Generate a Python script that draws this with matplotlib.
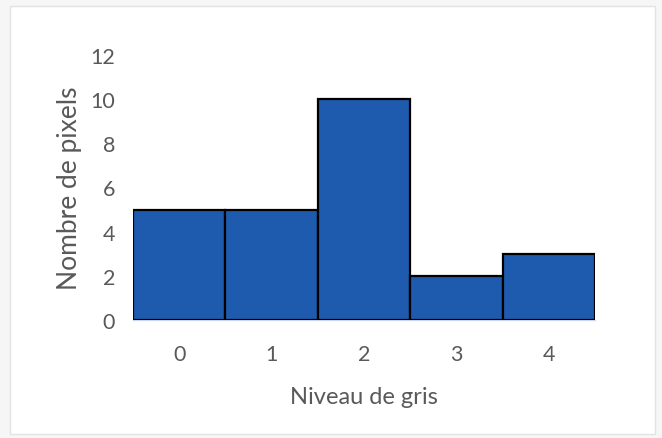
import matplotlib.pyplot as plt
from matplotlib.patches import Rectangle

# gray levels and pixel counts
niveaux = [0, 1, 2, 3, 4]
nb_pixels = [5, 5, 10, 2, 3]
y_ticks = [0, 2, 4, 6, 8, 10, 12]

plt.rcParams['font.family'] = ['Lato', 'DejaVu Sans']
txt_color = '#595959'

fig = plt.figure(figsize=(6.62, 4.39), dpi=100)
fig.patch.set_facecolor('#f6f6f6')
# white chart frame like the spreadsheet chart box
fig.patches.append(Rectangle((10/662, 4/439), 645/662, 428/439, transform=fig.transFigure,
                             facecolor='white', edgecolor='#e2e2e2', lw=1, zorder=-1))

ax = fig.add_axes([133/662, 1 - 321/439, 462/662, 265/439])
ax.set_facecolor('none')
ax.bar(niveaux, nb_pixels, width=1.0, color='#1e5bae', edgecolor='black', linewidth=1.6, zorder=3)

ax.set_xlim(-0.5, 4.5)
ax.set_ylim(0, 12)
ax.set_yticks(y_ticks)
ax.set_xticks(niveaux)
for s in ['top', 'right', 'left']:
    ax.spines[s].set_visible(False)
ax.spines['bottom'].set_color('#d0d8e8')
ax.spines['bottom'].set_linewidth(1)
ax.tick_params(length=0, labelsize=15.5, colors=txt_color)
ax.tick_params(axis='y', pad=13)
ax.tick_params(axis='x', pad=17)

ax.set_xlabel('Niveau de gris', fontsize=17, color=txt_color, labelpad=16)
ax.set_ylabel('Nombre de pixels', fontsize=19, color=txt_color, labelpad=6)

fig.savefig('out.png', dpi=100, facecolor=fig.get_facecolor())
